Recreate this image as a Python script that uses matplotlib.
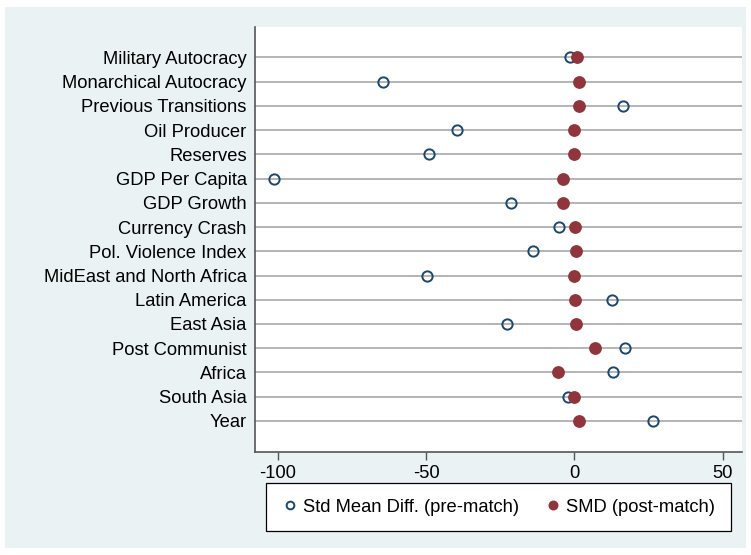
import matplotlib
matplotlib.use("Agg")
import matplotlib.pyplot as plt
from matplotlib.patches import Rectangle

plt.rcParams['font.family'] = ['Liberation Sans', 'DejaVu Sans']

labels = ["Military Autocracy", "Monarchical Autocracy", "Previous Transitions",
          "Oil Producer", "Reserves", "GDP Per Capita", "GDP Growth",
          "Currency Crash", "Pol. Violence Index", "MidEast and North Africa",
          "Latin America", "East Asia", "Post Communist", "Africa",
          "South Asia", "Year"]
pre_match = [-1.5, -64.5, 16.3, -39.5, -49.0, -101.4, -21.5, -5.3, -13.9,
             -49.8, 12.8, -22.8, 17.1, 12.9, -2.0, 26.6]
post_match = [0.8, 1.5, 1.5, -0.1, -0.3, -4.0, -3.8, 0.2, 0.6,
              -0.1, 0.2, 0.6, 6.8, -5.4, -0.1, 1.6]
xticks = [-100, -50, 0, 50]

navy = "#1a476f"
maroon = "#90353b"
panel = "#eaf2f3"
fs = 13.2

W, H = 751, 555
fig = plt.figure(figsize=(W / 100, H / 100), dpi=100)
fig.patch.set_facecolor("white")
fig.patches.append(Rectangle((5 / W, 1 - 548 / H), 741 / W, 541 / H,
                             transform=fig.transFigure, facecolor=panel,
                             edgecolor="none", zorder=-10))

ax = fig.add_axes([255 / W, 1 - 452 / H, 486.7 / W, 425 / H])
ax.set_facecolor("white")

n = len(labels)
ypos = list(range(n, 0, -1))

for y in ypos:
    ax.axhline(y, color="#a0a0a0", lw=1.1, zorder=1)

ax.plot(pre_match, ypos, linestyle="none", marker="o", markersize=7.4,
        markerfacecolor="none", markeredgecolor=navy, markeredgewidth=1.4,
        label="Std Mean Diff. (pre-match)", zorder=3)
ax.plot(post_match, ypos, linestyle="none", marker="o", markersize=8.2,
        markerfacecolor=maroon, markeredgecolor=maroon,
        label="SMD (post-match)", zorder=4)

ax.set_xlim(-107.7, 56.4)
ax.set_ylim(1 - 1.28, n + 1.25)
ax.set_yticks(ypos)
ax.set_yticklabels(labels, fontsize=fs)
ax.set_xticks(xticks)
ax.set_xticklabels([str(t) for t in xticks], fontsize=fs)

for side in ["top", "right"]:
    ax.spines[side].set_visible(False)
for side in ["left", "bottom"]:
    ax.spines[side].set_color("#555555")
    ax.spines[side].set_linewidth(1.2)
ax.tick_params(axis="y", length=0, pad=6)
ax.tick_params(axis="x", length=6, width=1, color="#555555", pad=3)

handles, leg_labels = ax.get_legend_handles_labels()
leg = fig.legend(handles, leg_labels, loc="center", ncol=2,
                 bbox_to_anchor=(498.4 / W, 1 - 507.3 / H),
                 frameon=True, fancybox=False, fontsize=fs,
                 edgecolor="black", facecolor="white", framealpha=1,
                 handletextpad=0.3, columnspacing=1.35, borderpad=0.85,
                 handlelength=0.9, markerscale=0.75)
leg.get_frame().set_linewidth(0.9)

fig.savefig("out.png", dpi=100, facecolor=fig.get_facecolor())
